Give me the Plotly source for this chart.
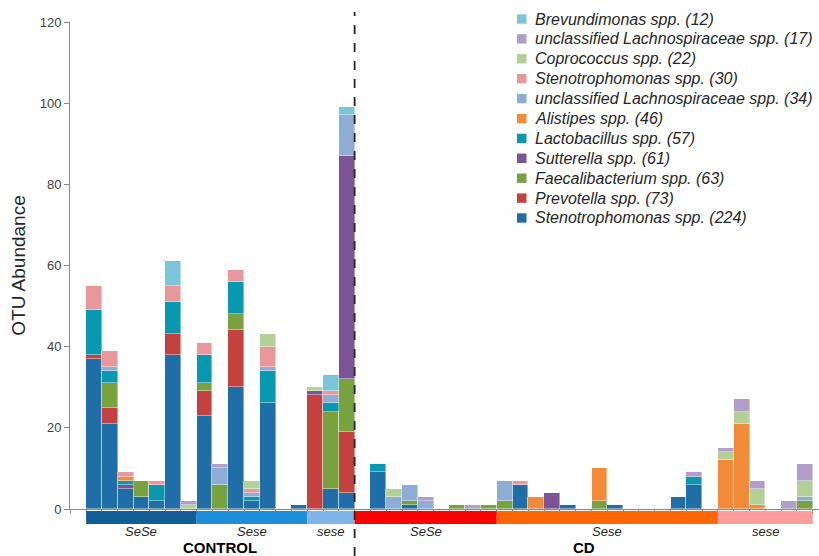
import plotly.graph_objects as go

# Sample positions: 17 CONTROL samples followed by 29 CD samples
n_control = 17
n_cd = 29
samples = list(range(n_control + n_cd))

# OTU counts per sample (CONTROL part + CD part), bottom of stack first
steno_224 = [37, 21, 5, 3, 2, 38, 0, 23, 0, 30, 2, 26, 0, 1, 0, 5, 4] + \
            [0, 9, 0, 1, 0, 0, 0, 0, 0, 0, 6, 0, 0, 1, 0, 0, 1, 0, 0, 0, 3, 6, 0, 0, 0, 0, 0, 0, 0]
prevotella_73 = [1, 4, 0, 0, 0, 5, 0, 6, 0, 14, 0, 0, 0, 0, 28, 0, 15] + [0] * 29
faecali_63 = [0, 6, 0, 4, 0, 0, 0, 2, 6, 4, 0, 0, 0, 0, 0, 19, 13] + \
             [0, 0, 0, 1, 0, 0, 1, 0, 1, 2, 0, 0, 0, 0, 0, 2, 0, 0, 0, 0, 0, 0, 0, 0, 0, 0, 0, 0, 2]
sutterella_61 = [0, 0, 1, 0, 0, 0, 0, 0, 0, 0, 0, 0, 0, 0, 1, 0, 55] + \
                [0, 0, 0, 0, 0, 0, 0, 0, 0, 0, 0, 0, 4, 0, 0, 0, 0, 0, 0, 0, 0, 0, 0, 0, 0, 0, 0, 0, 0]
lacto_57 = [11, 3, 1, 0, 4, 8, 0, 7, 0, 8, 1, 8, 0, 0, 0, 2, 0] + \
           [0, 2, 0, 0, 0, 0, 0, 0, 0, 0, 0, 0, 0, 0, 0, 0, 0, 0, 0, 0, 0, 2, 0, 0, 0, 0, 0, 0, 0]
alistipes_46 = [0, 0, 1, 0, 0, 0, 0, 0, 0, 0, 0, 0, 0, 0, 0, 0, 0] + \
               [0, 0, 0, 0, 0, 0, 0, 0, 0, 0, 0, 3, 0, 0, 0, 8, 0, 0, 0, 0, 0, 0, 0, 12, 21, 1, 0, 0, 0]
lachno_34 = [0, 1, 0, 0, 0, 0, 0, 0, 4, 0, 1, 1, 0, 0, 0, 2, 10] + \
            [0, 0, 3, 4, 2, 0, 0, 0, 0, 5, 0, 0, 0, 0, 0, 0, 0, 0, 0, 0, 0, 0, 0, 0, 0, 0, 0, 0, 1]
steno_30 = [6, 4, 1, 0, 1, 4, 0, 3, 0, 3, 1, 5, 0, 0, 0, 1, 0] + \
           [0, 0, 0, 0, 0, 0, 0, 0, 0, 0, 1, 0, 0, 0, 0, 0, 0, 0, 0, 0, 0, 0, 0, 0, 0, 0, 0, 0, 0]
copro_22 = [0, 0, 0, 0, 0, 0, 1, 0, 0, 0, 2, 3, 0, 0, 1, 0, 0] + \
           [0, 0, 2, 0, 0, 0, 0, 0, 0, 0, 0, 0, 0, 0, 0, 0, 0, 0, 0, 0, 0, 0, 0, 2, 3, 4, 0, 0, 4]
lachno_17 = [0, 0, 0, 0, 0, 0, 1, 0, 1, 0, 0, 0, 0, 0, 0, 0, 0] + \
            [0, 0, 0, 0, 1, 0, 0, 1, 0, 0, 0, 0, 0, 0, 0, 0, 0, 0, 0, 0, 0, 1, 0, 1, 3, 2, 0, 2, 4]
brevundi_12 = [0, 0, 0, 0, 0, 6, 0, 0, 0, 0, 0, 0, 0, 0, 0, 4, 2] + [0] * 29

series = [
    ("Stenotrophomonas spp. (224)", steno_224, "#1F6EA8"),
    ("Prevotella spp. (73)", prevotella_73, "#C3423F"),
    ("Faecalibacterium spp. (63)", faecali_63, "#77A23D"),
    ("Sutterella spp. (61)", sutterella_61, "#7A5494"),
    ("Lactobacillus spp. (57)", lacto_57, "#0898B0"),
    ("Alistipes spp. (46)", alistipes_46, "#F38A38"),
    ("unclassified Lachnospiraceae spp. (34)", lachno_34, "#8DADD5"),
    ("Stenotrophomonas spp. (30)", steno_30, "#E8979A"),
    ("Coprococcus spp. (22)", copro_22, "#B3D196"),
    ("unclassified Lachnospiraceae spp. (17)", lachno_17, "#B09DC8"),
    ("Brevundimonas spp. (12)", brevundi_12, "#79C6D8"),
]

# Genotype groups under the axis: (label, first sample, last sample, colour)
groups = [
    ("SeSe", 0, 6, "#105E95"),
    ("Sese", 7, 13, "#1E8ED8"),
    ("sese", 14, 16, "#7EB5E6"),
    ("SeSe", 17, 25, "#FF0000"),
    ("Sese", 26, 39, "#FF6600"),
    ("sese", 40, 45, "#FF9C9C"),
]
cohorts = [("CONTROL", 0, 16), ("CD", 17, 45)]

font_family = "'Liberation Sans', Arial, sans-serif"

# Figure / plot-area geometry in pixels
W, H = 819, 556
M_L, M_R, M_T, M_B = 70, 0, 22, 47
plot_w = W - M_L - M_R
plot_h = H - M_T - M_B


def px_x(px):
    return (px - M_L) / plot_w


def px_y(py):
    return (H - M_B - py) / plot_h


fig = go.Figure()
for name, vals, color in series:
    fig.add_trace(go.Bar(
        x=samples,
        y=[v if v else None for v in vals],
        name=name,
        marker=dict(color=color, line=dict(color="rgba(255,255,255,0.7)", width=0.6)),
        width=1.0,
        showlegend=False,
    ))

shapes = []
annotations = []
for label, a, b, color in groups:
    shapes.append(dict(type="rect", xref="x", yref="paper",
                       x0=a - 0.5, x1=b + 0.5, y0=px_y(524), y1=px_y(511),
                       fillcolor=color, line=dict(width=0), layer="above"))
    annotations.append(dict(x=(a + b) / 2, y=px_y(531.3), xref="x", yref="paper",
                            text=f"<i>{label}</i>", showarrow=False, yanchor="middle",
                            borderpad=0,
                            font=dict(size=13, color="#262626", family=font_family)))
for label, a, b in cohorts:
    annotations.append(dict(x=(a + b) / 2, y=px_y(547.3), xref="x", yref="paper",
                            text=f"<b>{label}</b>", showarrow=False, yanchor="middle",
                            borderpad=0,
                            font=dict(size=15, color="#000000", family=font_family)))

# Dashed divider between CONTROL and CD
shapes.append(dict(type="line", xref="x", yref="paper",
                   x0=n_control - 0.5, x1=n_control - 0.5, y0=px_y(556), y1=px_y(12),
                   line=dict(color="#262626", width=1.8, dash="dash"), layer="above"))

# Key: one coloured square and italic name per taxon, top entry = last in the stack
row0, row_step = 19, 19.9
for i, (name, _, color) in enumerate(reversed(series)):
    cy = row0 + i * row_step
    shapes.append(dict(type="rect", xref="paper", yref="paper",
                       x0=px_x(517), x1=px_x(526.5), y0=px_y(cy + 4.7), y1=px_y(cy - 4.7),
                       fillcolor=color, line=dict(width=0)))
    annotations.append(dict(x=px_x(534), y=px_y(cy), xref="paper", yref="paper",
                            text=f"<i>{name}</i>", showarrow=False,
                            xanchor="left", yanchor="middle",
                            borderpad=0,
                            font=dict(size=16, color="#262626", family=font_family)))

fig.update_layout(
    width=W, height=H,
    margin=dict(l=M_L, r=M_R, t=M_T, b=M_B),
    barmode="stack",
    bargap=0,
    plot_bgcolor="white",
    paper_bgcolor="white",
    font=dict(family=font_family, color="#404040"),
    showlegend=False,
    xaxis=dict(
        range=[-1.52, 45.9],
        showgrid=False, zeroline=False,
        showline=True, linecolor="#888888", linewidth=1,
        ticks="outside", ticklen=4, tickcolor="#888888",
        tick0=-0.5, dtick=1, showticklabels=False,
    ),
    yaxis=dict(
        range=[0, 120], tick0=0, dtick=20,
        showgrid=False, zeroline=False,
        showline=True, linecolor="#888888", linewidth=1,
        ticks="outside", ticklen=5, tickcolor="#888888",
        tickfont=dict(size=13, color="#404040"),
        title=dict(text="OTU Abundance", font=dict(size=19, color="#262626"), standoff=9),
    ),
    shapes=shapes,
    annotations=annotations,
)

fig.write_html("out.html")
